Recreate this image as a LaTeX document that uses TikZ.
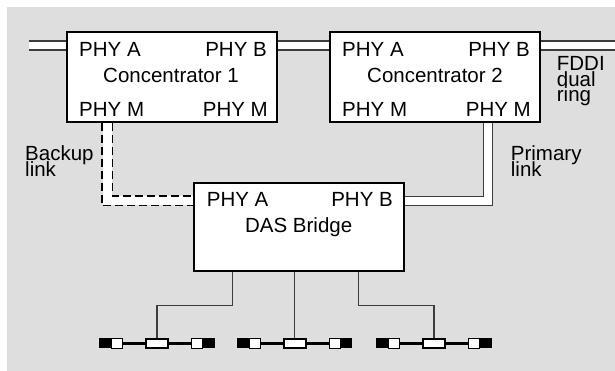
\documentclass[tikz,border=0pt]{standalone}
\usepackage{fontspec}
\setmainfont{Liberation Sans}
\definecolor{bggray}{RGB}{222,222,222}
\definecolor{lnk}{RGB}{60,60,60}
\newcommand\lblfont{\fontsize{20.5}{15.5}\selectfont}
\newcommand\stack[1]{\vtop{\baselineskip=15.5pt\lineskiplimit=-100pt\lineskip=0pt #1}}
\begin{document}
\begin{tikzpicture}[x=1pt,y=-1pt,
  lbl/.style={inner sep=0pt,font=\lblfont},
  ml/.style={lbl,anchor=base west},
  box/.style={draw=black,line width=2pt,fill=white,minimum width=210pt,inner sep=0pt},
  dbl/.style={draw=lnk,line width=1.3pt,double=white,double distance=7.7pt},
  dsh/.style={draw=black,line width=1.3pt,dash pattern=on 8pt off 4pt},
  tap/.style={draw=lnk,line width=1.2pt},
  seg/.style={draw=black,line width=2.5pt},
  mid/.style={draw=black,line width=2pt,fill=white,minimum width=22pt,minimum height=8.5pt,inner sep=0pt},
  blk/.style={fill=black,minimum width=11.7pt,minimum height=10pt,inner sep=0pt},
  wsq/.style={draw=black,line width=0.6pt,fill=white,minimum width=11.2pt,minimum height=9.5pt,inner sep=0pt}
]
\useasboundingbox (0,0) rectangle (615,371);
\fill[bggray] (7,7) rectangle (615,371);

% boxes
\node[box,minimum height=90pt] (c1) at (172,77) {};
\node[box,minimum height=90pt] (c2) at (435,77) {};
\node[box,minimum height=88pt] (das) at (299.3,226.7) {};

% ring
\coordinate (r0) at (29,45.5);
\coordinate (r1) at (615,45.5);
\draw[dbl] (r0) -- (r0 -| c1.west);
\draw[dbl] (r0 -| c1.east) -- (r0 -| c2.west);
\draw[dbl] (r0 -| c2.east) -- (r1);

% primary link
\coordinate (pc) at (488,201);
\draw[dbl] (pc |- c2.south) -- (pc) -- (pc -| das.east);

% backup link
\coordinate (bc) at (107.15,200.85);
\coordinate (bo) at (102,205.7);
\coordinate (bi) at (112.3,196);
\draw[white,line width=9pt] (bc |- c1.south) -- (bc) -- (bc -| das.west);
\draw[dsh] (bo |- c1.south) -- (bo) -- (bo -| das.west);
\draw[dsh] (bi |- c1.south) -- (bi) -- (bi -| das.west);

% redraw boxes on top
\node[box,minimum height=90pt] at (c1) {};
\node[box,minimum height=90pt] at (c2) {};
\node[box,minimum height=88pt] at (das) {};

% box texts
\node[lbl,anchor=base west] (c1a) at (79,57) {PHY A};
\node[lbl,anchor=base east] (c1b) at (267,57) {PHY B};
\node[lbl,anchor=base] (c1t) at (171,83) {Concentrator 1};
\node[lbl,anchor=base west] (c1m) at (79,117) {PHY M};
\node[lbl,anchor=base east] (c1n) at (268,117) {PHY M};

\node[lbl,anchor=base west] (c2a) at (342,57) {PHY A};
\node[lbl,anchor=base east] (c2b) at (530,57) {PHY B};
\node[lbl,anchor=base] (c2t) at (435,83) {Concentrator 2};
\node[lbl,anchor=base west] (c2m) at (342,117) {PHY M};
\node[lbl,anchor=base east] (c2n) at (531,117) {PHY M};

\node[lbl,anchor=base west] (da) at (206.7,206.7) {PHY A};
\node[lbl,anchor=base east] (db) at (393,206.7) {PHY B};
\node[lbl,anchor=base] (dt) at (298.7,232.7) {DAS Bridge};

% side labels
\node[ml] (fddi) at (556.7,70.7) {\stack{\hbox{FDDI}\hbox{dual}\hbox{ring}}};
\node[ml] (bkl) at (25,160.7) {\stack{\hbox{Backup}\hbox{link}}};
\node[ml] (prl) at (510.7,160.7) {\stack{\hbox{Primary}\hbox{link}}};

% LAN segments
\foreach \i/\c in {1/157,2/294.5,3/434}{
  \node[mid] (m\i) at (\c,343.3) {};
  \node[blk] (bl\i) at (\c-51.7,343.3) {};
  \node[wsq] (wl\i) at (\c-40,343.3) {};
  \node[wsq] (wr\i) at (\c+40,343.3) {};
  \node[blk] (br\i) at (\c+51.7,343.3) {};
  \draw[seg] (wl\i.east) -- (m\i.west);
  \draw[seg] (m\i.east) -- (wr\i.west);
}

% taps
\coordinate (k1) at (232.7,305.7);
\coordinate (k3) at (358.3,305.7);
\draw[tap] (k1 |- das.south) -- (k1) -- (k1 -| m1.north) -- (m1.north);
\draw[tap] (m2.north |- das.south) -- (m2.north);
\draw[tap] (k3 |- das.south) -- (k3) -- (k3 -| m3.north) -- (m3.north);
\end{tikzpicture}
\end{document}
